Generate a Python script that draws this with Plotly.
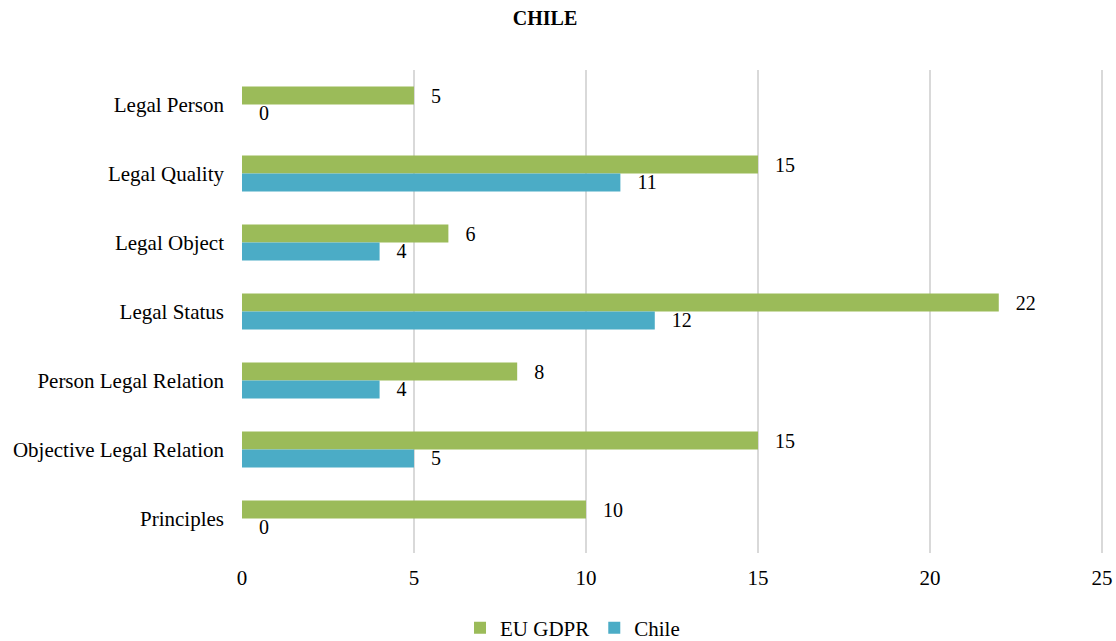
import plotly.graph_objects as go

categories = ["Legal Person", "Legal Quality", "Legal Object", "Legal Status",
              "Person Legal Relation", "Objective Legal Relation", "Principles"]
eu_gdpr = [5, 15, 6, 22, 8, 15, 10]
chile = [0, 11, 4, 12, 4, 5, 0]
x_ticks = [0, 5, 10, 15, 20, 25]

FONT = "Liberation Serif, Times New Roman, serif"


def labels(values):
    # leading spacing pushes the value label a little away from the bar end
    return ["\u2002\u2009" + str(v) for v in values]


fig = go.Figure()
fig.add_trace(go.Bar(
    y=categories, x=eu_gdpr, name="EU GDPR", orientation="h",
    marker=dict(color="#9BBB59", line=dict(width=0)),
    text=labels(eu_gdpr), textposition="outside", cliponaxis=False,
    constraintext="none",
    textfont=dict(family=FONT, size=20, color="#000000"),
))
fig.add_trace(go.Bar(
    y=categories, x=chile, name="Chile", orientation="h",
    marker=dict(color="#4BACC6", line=dict(width=0)),
    text=labels(chile), textposition="outside", cliponaxis=False,
    constraintext="none",
    textfont=dict(family=FONT, size=20, color="#000000"),
))

fig.update_layout(
    width=1116, height=641,
    margin=dict(l=242, r=13, t=70, b=88),
    paper_bgcolor="white", plot_bgcolor="white",
    barmode="group", bargap=0.48, bargroupgap=0,
    font=dict(family=FONT, size=21, color="#000000"),
    title=dict(text="<b>CHILE</b>", x=545 / 1116, xanchor="center", xref="container",
               y=1 - 18 / 641, yref="container", yanchor="middle",
               font=dict(family=FONT, size=20, color="#000000")),
    legend=dict(orientation="h", x=0.513, xref="container", xanchor="center",
                y=0.02, yref="container", yanchor="middle",
                font=dict(family=FONT, size=21), traceorder="normal"),
    xaxis=dict(range=[0, 25.03], tickvals=x_ticks, showgrid=True, gridcolor="#D9D9D9",
               gridwidth=2, zeroline=False, showline=False, ticks="",
               automargin=False,
               ticklabelstandoff=10, tickfont=dict(family=FONT, size=21)),
    yaxis=dict(categoryorder="array", categoryarray=categories, autorange="reversed",
               showgrid=False, showline=False, ticks="", ticklabelstandoff=17,
               automargin=False,
               tickfont=dict(family=FONT, size=21)),
)

fig.write_html("out.html")
